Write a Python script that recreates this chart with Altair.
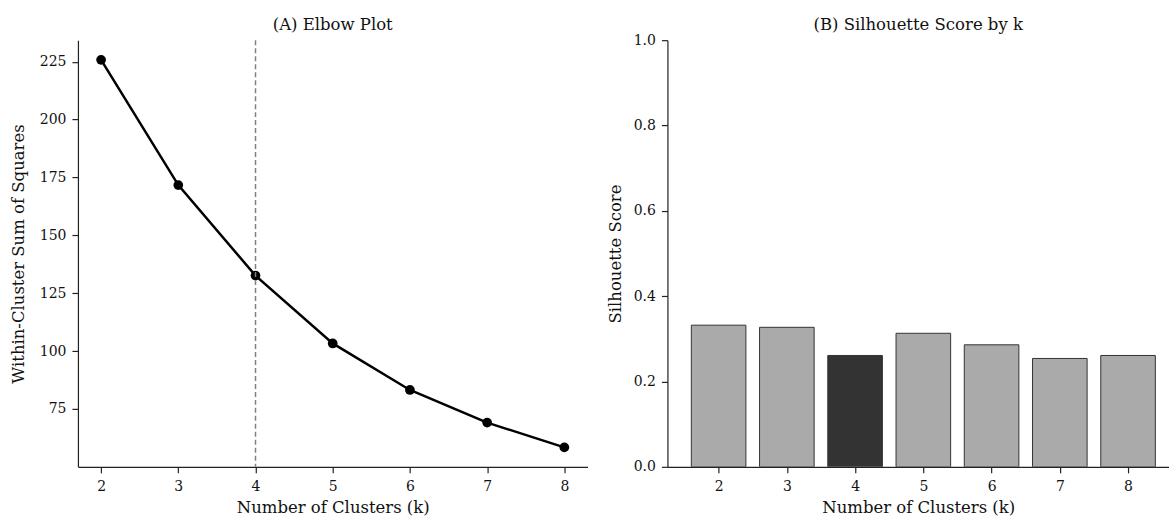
import altair as alt
import pandas as pd

k_values = [2, 3, 4, 5, 6, 7, 8]
wcss = [225.8, 171.7, 132.6, 103.3, 83.2, 69.1, 58.4]
silhouette = [0.332, 0.327, 0.261, 0.313, 0.286, 0.254, 0.261]
best_k = 4
wcss_ticks = [75, 100, 125, 150, 175, 200, 225]
sil_ticks = [0.0, 0.2, 0.4, 0.6, 0.8, 1.0]

FONT = "DejaVu Serif"

df_line = pd.DataFrame({"k": k_values, "wcss": wcss})
df_bar = pd.DataFrame({
    "k": k_values,
    "lo": [k - 0.4 for k in k_values],
    "hi": [k + 0.4 for k in k_values],
    "sil": silhouette,
    "hl": ["best" if k == best_k else "other" for k in k_values],
})
df_rule = pd.DataFrame({"k": [best_k]})

x_line = alt.X("k:Q", scale=alt.Scale(domain=[1.7, 8.3], nice=False, zero=False),
               axis=alt.Axis(values=k_values, format="d", title="Number of Clusters (k)"))
y_line = alt.Y("wcss:Q", scale=alt.Scale(domain=[50.0, 234.3], nice=False, zero=False),
               axis=alt.Axis(values=wcss_ticks, format="d", title="Within-Cluster Sum of Squares",
                             titlePadding=13))

line = alt.Chart(df_line).mark_line(color="black", strokeWidth=2.5).encode(x=x_line, y=y_line)
pts = alt.Chart(df_line).mark_circle(color="black", size=95, opacity=1).encode(x=x_line, y=y_line)
rule = alt.Chart(df_rule).mark_rule(color="#808080", strokeDash=[5, 3], strokeWidth=1.5).encode(
    x=alt.X("k:Q", scale=alt.Scale(domain=[1.7, 8.3], nice=False, zero=False)))

left = alt.layer(line, pts, rule).properties(
    width=510, height=427, title=alt.TitleParams("(A) Elbow Plot", offset=6))

bars = alt.Chart(df_bar).mark_rect(stroke="#333333", strokeWidth=1, clip=True).encode(
    x=alt.X("lo:Q", scale=alt.Scale(domain=[1.25, 8.6], nice=False, zero=False),
            axis=alt.Axis(values=k_values, format="d", title="Number of Clusters (k)")),
    x2="hi:Q",
    y=alt.Y("sil:Q", scale=alt.Scale(domain=[0, 1], nice=False),
            axis=alt.Axis(values=sil_ticks, format=".1f", title="Silhouette Score", titlePadding=10)),
    y2=alt.datum(0),
    color=alt.Color("hl:N", scale=alt.Scale(domain=["other", "best"], range=["#aaaaaa", "#333333"]),
                    legend=None),
)
right = bars.properties(width=502, height=427,
                        title=alt.TitleParams("(B) Silhouette Score by k", offset=0))

chart = alt.hconcat(left, right, spacing=19).properties(
    padding={"left": 10, "top": 16, "right": 0, "bottom": 0}, background="white"
).configure_view(stroke=None).configure_axis(
    grid=False, domainColor="#222222", tickColor="#222222", domainWidth=1.2, tickWidth=1.2, tickSize=6,
    labelFont=FONT, titleFont=FONT, labelFontSize=14, titleFontSize=16.5, labelColor="#111111",
    titleColor="#111111", titleFontWeight="normal", labelPadding=6, labelFlush=False,
).configure_axisX(titlePadding=6, labelPadding=7).configure_title(
    font=FONT, fontSize=16.5, fontWeight="normal", color="#111111", anchor="middle"
)

chart.save("out.html", embed_options={"renderer": "svg", "actions": False})
